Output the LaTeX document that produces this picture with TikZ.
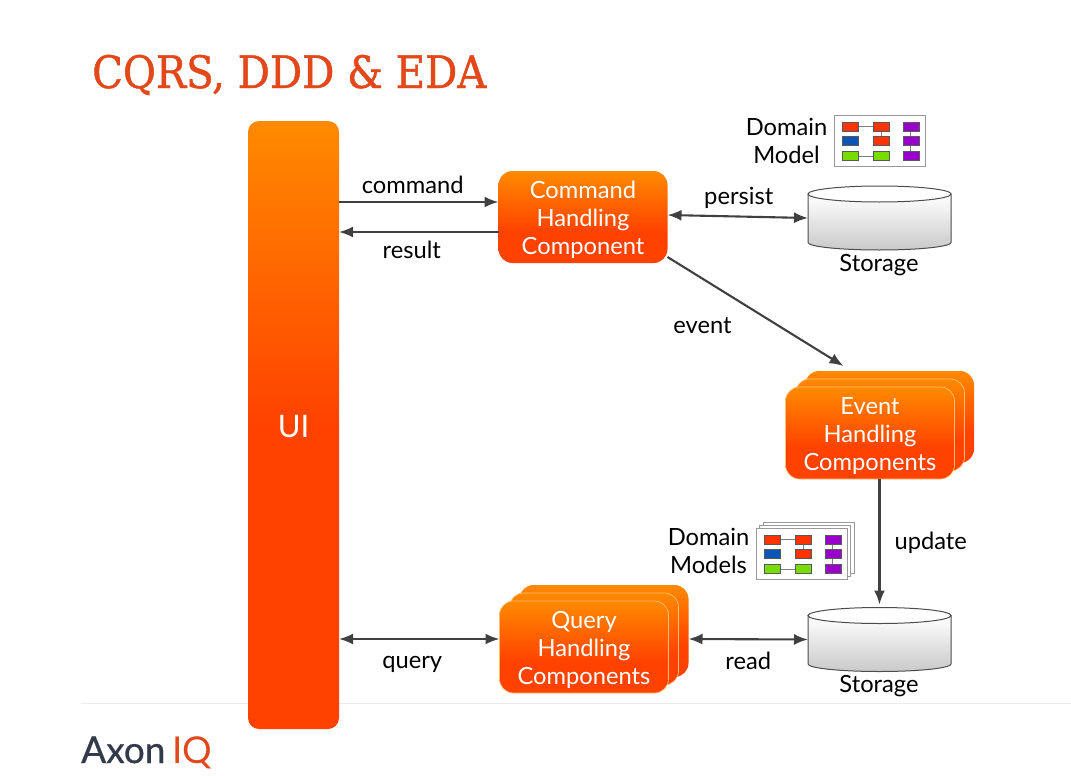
\documentclass[tikz,border=0pt]{standalone}
\usepackage{fontspec}
\usetikzlibrary{arrows.meta}
\setmainfont{Lato}
\newfontfamily\titlefont[FakeBold=1]{DejaVu Serif Condensed}
\newfontfamily\logofont[FakeBold=0.7]{Lato}
\definecolor{flameTop}{HTML}{FF8A00}
\definecolor{flameLow}{HTML}{FF4200}
\definecolor{titleInk}{HTML}{E2481A}
\definecolor{lineInk}{HTML}{404040}
\definecolor{logoInk}{HTML}{333A4A}
\definecolor{iconRed}{HTML}{FF3300}
\definecolor{iconBlue}{HTML}{0B56B5}
\definecolor{iconGreen}{HTML}{77DD00}
\definecolor{iconPurple}{HTML}{9900CC}
\pgfdeclareverticalshading{boxfade}{100bp}{color(0bp)=(flameLow); color(42bp)=(flameLow); color(75bp)=(flameTop); color(100bp)=(flameTop)}
\pgfdeclareverticalshading{barfade}{100bp}{color(0bp)=(flameLow); color(50bp)=(flameLow); color(75bp)=(flameTop); color(100bp)=(flameTop)}
\newcommand{\lifted}{\rule{0pt}{23pt}}
\tikzset{
	flow/.style={-{Latex[length=14pt,width=11pt]},line width=2.1pt,color=lineInk},
	bothflow/.style={{Latex[length=14pt,width=11pt]}-{Latex[length=14pt,width=11pt]},line width=2.1pt,color=lineInk},
	handler/.style={rounded corners=14pt,shade,shading=boxfade,text=white,align=center,font=\fontsize{23.7}{28}\selectfont,minimum width=169pt,minimum height=92pt,inner sep=0pt,outer sep=0pt},
	stacked/.style={handler,draw=flameTop!55!white,line width=.7pt},
	label/.style={text=black,align=center,font=\fontsize{23.7}{28}\selectfont,inner sep=0pt},
	iconbox/.style={draw=gray!80,fill=white,line width=.9pt},
	iconline/.style={draw=gray,line width=.8pt}
}
\newcommand{\iconcells}[2]{
	\begin{scope}[shift={(#1,#2)}]
		\draw[iconbox] (0,0) rectangle (91,51);
		\draw[iconline] (16,11.5)--(47,11.5)--(47,26);
		\draw[iconline] (16,41)--(47,41);
		\draw[iconline] (76,11.5)--(76,41);
		\foreach \cx/\cy/\cc in {8/7/iconRed,39/7/iconRed,69/7/iconPurple,8/21/iconBlue,39/21/iconRed,69/21/iconPurple,8/36/iconGreen,39/36/iconGreen,69/36/iconPurple}
			\draw[fill=\cc,draw=gray!70!black,line width=.3pt] (\cx,\cy) rectangle ++(16,9);
	\end{scope}
}
\newcommand{\storagedrum}[3]{
	\node[minimum width=143pt,minimum height=64pt,inner sep=0pt,outer sep=0pt] (#1) at (#2,#3) {};
	\draw[top color=white,bottom color=gray!42,draw=gray!60!black,line width=1pt] ([yshift=-8pt]#1.north west) -- ([yshift=7.5pt]#1.south west) arc[start angle=180,end angle=360,x radius=71.5,y radius=-7.5] -- ([yshift=-8pt]#1.north east) -- cycle;
	\draw[fill=white,draw=gray!60!black,line width=1pt] ([yshift=-8pt]#1.north) ellipse[x radius=71.5,y radius=8];
}
\begin{document}
\begin{tikzpicture}[x=1pt,y=-1pt]
	\useasboundingbox (0,0) rectangle (1071,776);
	\draw[line width=1pt,color=gray!15] (81,703) -- (1071,703);
	\node[text=titleInk,font=\titlefont\fontsize{44.7}{50}\selectfont,anchor=west,inner sep=0pt] (headline) at (92,75) {CQRS, DDD \& EDA};
	\node[rounded corners=11pt,shade,shading=barfade,text=white,font=\fontsize{31}{34}\selectfont,minimum width=91pt,minimum height=608pt,inner sep=0pt,outer sep=0pt,execute at begin node=\rule{0pt}{26pt}] (ui) at (293.5,425) {UI};

	\node[handler] (command) at (583,217) {\lifted Command\\Handling\\Component};

	\node[handler] (eventBack) at (889.5,417) {};
	\node[stacked] (eventMid) at (880,425) {};
	\node[stacked] (event) at (870,433) {\lifted Event\\Handling\\Components};

	\node[handler] (queryBack) at (604,631) {};
	\node[stacked] (queryMid) at (594,639) {};
	\node[stacked] (query) at (584,647) {\lifted Query\\Handling\\Components};

	\storagedrum{writeStore}{879.5}{218}
	\storagedrum{readStore}{879.5}{639.5}

	\iconcells{834}{115}
	\iconcells{763}{522}
	\iconcells{759.5}{525}
	\iconcells{756}{528}

	\node[label] (domainModel) at (786.5,141) {Domain\\Model};
	\node[label] (domainModels) at (708.5,551) {Domain\\Models};
	\node[label] (writeName) at (879,265) {Storage};
	\node[label] (readName) at (879,686) {Storage};

	\coordinate (commandIn) at ([yshift=15pt]command.west);
	\coordinate (commandOut) at ([yshift=-15pt]command.west);
	\draw[flow] (ui.east |- commandIn) -- node[label,above=7pt,xshift=-6pt]{command} (commandIn);
	\draw[flow] (commandOut) -- node[label,below=8pt,xshift=-7pt]{result} (ui.east |- commandOut);
	\draw[bothflow] ([yshift=2pt]command.east) -- node[label,above=6.5pt,xshift=1pt]{persist} (writeStore.west);
	\draw[flow] ([yshift=6pt]command.south east) -- node[label,midway,xshift=-53pt,yshift=-14pt]{event} ([xshift=-46pt,yshift=5pt]eventBack.north);
	\draw[flow] (event.south -| readStore.north) -- node[label,right=14pt,pos=.51]{update} ([yshift=3pt]readStore.north);
	\draw[bothflow] (ui.east |- queryMid) -- node[label,below=16pt,xshift=-7pt]{query} (query.west |- queryMid);
	\draw[bothflow] (queryBack.east |- queryMid) -- node[label,below=12pt]{read} (readStore.west);

	\node[anchor=base west,text=logoInk,font=\logofont\fontsize{37}{40}\selectfont,inner sep=0pt] (axon) at (81,763) {Axon};
	\node[anchor=base west,text=titleInk,font=\fontsize{37}{40}\selectfont,inner sep=0pt] (iq) at (172,763) {IQ};
\end{tikzpicture}
\end{document}
